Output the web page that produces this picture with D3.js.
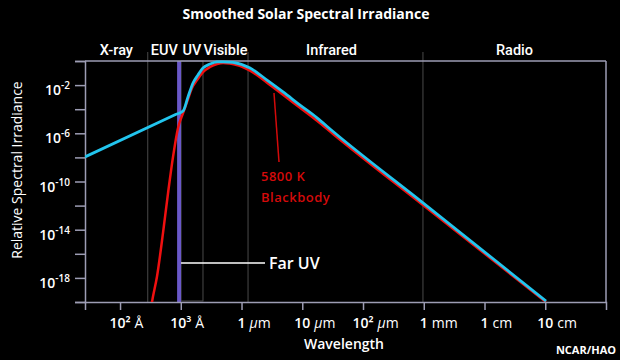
<!DOCTYPE html>
<html>
<head>
<meta charset="utf-8">
<script src="https://cdn.jsdelivr.net/npm/d3@7"></script>
<style>
  body { margin: 0; background: #000; }
  svg { display: block; font-family: "Open Sans", Roboto, sans-serif; }
</style>
</head>
<body>
<svg id="chart" width="620" height="360"></svg>
<script>
// 太阳光谱辐照度 vs 5800 K 黑体
// 波长单位 nm，辐照度为相对值
const solarWave = [2.65, 80.4, 109, 131, 159, 192, 232, 303, 395, 496, 724, 1380, 2630, 4820, 9180, 17500, 32100, 9.7e5, 1.03e8];
const solarIrr  = [1.1e-8, 3.5e-5, 7.1e-5, 1.0e-3, 1.5e-2, 6.9e-2, 0.26, 0.56, 0.83, 0.86, 0.76, 0.26, 2.6e-2, 2.7e-3, 2.2e-4, 1.9e-5, 1.4e-6, 1.7e-12, 1.2e-20];

const bbWave = [31.2, 33.6, 40.6, 51, 61.7, 74.5, 90.1, 109, 127, 153, 185, 232, 303, 395, 496, 646, 1380, 2630, 4820, 9180, 17500, 32100, 9.7e5, 1.03e8];
const bbIrr  = [8e-22, 1e-20, 1.3e-18, 5.4e-15, 1.1e-11, 1.1e-8, 2.8e-6, 4.8e-5, 4.0e-4, 5.8e-3, 2.6e-2, 0.12, 0.32, 0.56, 0.68, 0.62, 0.16, 1.6e-2, 1.6e-3, 1.3e-4, 1.1e-5, 8.7e-7, 1.1e-12, 1.0e-20];

// 波段（nm）
const bandNames = ['X-ray', 'EUV', 'UV', 'Visible', 'Infrared', 'Radio'];
const bandEdges = [2.65, 28.6, 100, 232, 1280, 9.7e5, 1e9];
const farUV = [87, 101];

// 刻度
const xTickVals  = [1e1, 1e2, 1e3, 1e4, 1e5, 1e6, 1e7, 1e8];
const xTickNums  = ['10²', '10³', '1', '10', '10²', '1', '1', '10'];
const xTickUnits = ['Å', 'Å', 'μm', 'μm', 'μm', 'mm', 'cm', 'cm'];
const yTickExps  = [0, -2, -4, -6, -8, -10, -12, -14, -16, -18, -20];
const yLabelExps = [-2, -6, -10, -14, -18];

const mLeft = 85, mRight = 606, mTop = 61, mBottom = 302;
const axisColor = '#9d9db4', gridColor = '#4a4a4a';
const blue = '#22c5ee', red = '#f01010';

const svg = d3.select('#chart');
svg.append('rect').attr('width', 620).attr('height', 360).attr('fill', '#000');

const x = d3.scaleLog().domain([2.65, 1e9]).range([mLeft, mRight]);
const y = d3.scaleLog().domain([1e-20, 1]).range([mBottom, mTop]);

// 标题
svg.append('text')
  .attr('x', 306).attr('y', 19)
  .attr('text-anchor', 'middle')
  .attr('fill', '#fff')
  .style('font-size', '14px').style('font-weight', 700)
  .text('Smoothed Solar Spectral Irradiance');

// 波段分隔线
const seps = [bandEdges[1], bandEdges[4], bandEdges[5]];
svg.selectAll('.sep').data(seps).enter().append('line')
  .attr('x1', d => x(d)).attr('x2', d => x(d))
  .attr('y1', 52).attr('y2', mBottom)
  .attr('stroke', gridColor).attr('stroke-width', 1);

// UV 方框
svg.append('rect')
  .attr('x', x(farUV[1])).attr('y', mTop)
  .attr('width', x(bandEdges[3]) - x(farUV[1]))
  .attr('height', mBottom - mTop - 1)
  .attr('fill', 'none').attr('stroke', gridColor).attr('stroke-width', 1);

// Far UV 紫色带
svg.append('rect')
  .attr('x', x(farUV[0])).attr('y', mTop)
  .attr('width', x(farUV[1]) - x(farUV[0]))
  .attr('height', mBottom - mTop)
  .attr('fill', '#6a58c8');

// 波段名称（取对数中点）
svg.selectAll('.band').data(bandNames).enter().append('text')
  .attr('x', (d, i) => x(Math.sqrt(bandEdges[i] * bandEdges[i + 1])) - (d === 'Infrared' ? 4 : 0))
  .attr('y', 55)
  .attr('text-anchor', 'middle')
  .attr('fill', '#fff')
  .style('font-family', 'Roboto, sans-serif')
  .style('font-size', '14.5px').style('font-weight', 500)
  .text(d => d);

// 上、右边框
svg.append('line').attr('x1', mLeft).attr('x2', mRight).attr('y1', mTop).attr('y2', mTop)
  .attr('stroke', axisColor).attr('stroke-width', 1.5);
svg.append('line').attr('x1', mRight).attr('x2', mRight).attr('y1', mTop).attr('y2', mBottom)
  .attr('stroke', axisColor).attr('stroke-width', 1.5);

// x 轴
const xAxis = svg.append('g')
  .attr('transform', `translate(0,${mBottom})`)
  .call(d3.axisBottom(x).tickValues(xTickVals).tickSize(8).tickSizeOuter(8).tickFormat(''));
xAxis.selectAll('path, line').attr('stroke', axisColor).attr('stroke-width', 1.5);

xTickVals.forEach((v, i) => {
  const t = svg.append('text')
    .attr('y', 328)
    .attr('fill', '#fff')
    .style('font-size', '14px');
  const num = t.append('tspan').style('font-weight', 600).text(xTickNums[i]);
  const unit = xTickUnits[i];
  if (unit === 'μm') {
    t.append('tspan').attr('dx', 4).style('font-style', 'italic').text('μ');
    t.append('tspan').style('font-weight', 400).text('m');
  } else {
    t.append('tspan').attr('dx', 4).style('font-weight', 400).text(unit);
  }
  const w = num.node().getComputedTextLength();
  t.attr('x', x(v) - w / 2);
});

// y 轴
const yAxis = svg.append('g')
  .attr('transform', `translate(${mLeft},0)`)
  .call(d3.axisLeft(y).tickValues(yTickExps.map(e => Math.pow(10, e))).tickSize(10).tickSizeOuter(10).tickFormat(''));
yAxis.selectAll('path, line').attr('stroke', axisColor).attr('stroke-width', 1.5);

yLabelExps.forEach(e => {
  const t = svg.append('text')
    .attr('x', 70).attr('y', y(Math.pow(10, e)) + 10)
    .attr('text-anchor', 'end')
    .attr('fill', '#fff')
    .style('font-size', '14px').style('font-weight', 600);
  t.append('tspan').text('10');
  t.append('tspan').attr('dy', -6).style('font-size', '10px').text(e);
});

// 坐标轴标题
svg.append('text')
  .attr('transform', 'translate(22,170) rotate(-90)')
  .attr('text-anchor', 'middle')
  .attr('fill', '#fff')
  .style('font-size', '14px')
  .text('Relative Spectral Irradiance');

svg.append('text')
  .attr('x', 344).attr('y', 349)
  .attr('text-anchor', 'middle')
  .attr('fill', '#fff')
  .style('font-size', '14px').style('font-weight', 600)
  .text('Wavelength');

svg.append('text')
  .attr('x', 616).attr('y', 354)
  .attr('text-anchor', 'end')
  .attr('fill', '#fff')
  .style('font-size', '11px').style('font-weight', 700)
  .text('NCAR/HAO');

// 曲线
svg.append('clipPath').attr('id', 'plot-clip')
  .append('rect').attr('x', mLeft).attr('y', mTop - 5).attr('width', mRight - mLeft).attr('height', mBottom - mTop + 5);

const line = d3.line()
  .x(d => x(d[0]))
  .y(d => y(d[1]))
  .curve(d3.curveMonotoneX);

const plot = svg.append('g').attr('clip-path', 'url(#plot-clip)');
plot.append('path')
  .datum(bbWave.map((w, i) => [w, bbIrr[i]]))
  .attr('d', line)
  .attr('fill', 'none').attr('stroke', red).attr('stroke-width', 2.5);
plot.append('path')
  .datum(solarWave.map((w, i) => [w, solarIrr[i]]))
  .attr('d', line)
  .attr('fill', 'none').attr('stroke', blue).attr('stroke-width', 2.8);

// 注释：黑体
const bbRed = '#d40a0a';
svg.append('line')
  .attr('x1', 274).attr('y1', 93).attr('x2', 279).attr('y2', 162)
  .attr('stroke', bbRed).attr('stroke-width', 1.5);
svg.append('text')
  .attr('x', 261).attr('y', 181)
  .attr('fill', bbRed)
  .style('font-size', '13px').style('font-weight', 600).style('letter-spacing', '0.5px')
  .text('5800 K');
svg.append('text')
  .attr('x', 261).attr('y', 202)
  .attr('fill', bbRed)
  .style('font-size', '13px').style('font-weight', 600).style('letter-spacing', '0.5px')
  .text('Blackbody');

// 注释：Far UV
svg.append('line')
  .attr('x1', x(farUV[1])).attr('x2', 265).attr('y1', 263).attr('y2', 263)
  .attr('stroke', '#fff').attr('stroke-width', 1.5);
svg.append('text')
  .attr('x', 269).attr('y', 269)
  .attr('fill', '#fff')
  .style('font-size', '16px').style('font-weight', 600)
  .text('Far UV');
</script>
</body>
</html>
